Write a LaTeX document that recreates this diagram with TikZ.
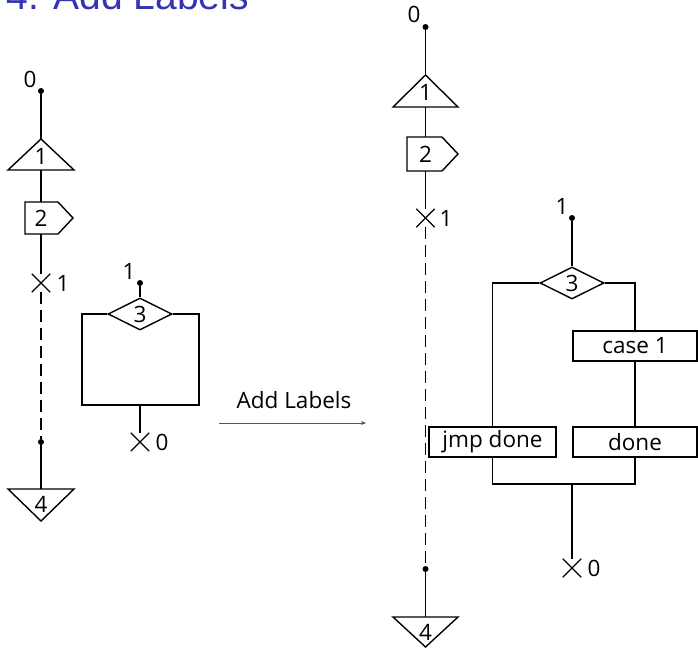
\documentclass[tikz,border=0pt]{standalone}
\usepackage{fontspec}
\setmainfont{Open Sans}
\newfontfamily\titlefont{Liberation Sans}
\usetikzlibrary{shapes.geometric,shapes.misc,arrows.meta}
\definecolor{titleblue}{RGB}{51,51,179}
\definecolor{arrowgray}{RGB}{85,85,85}
\newcommand\lblsize{\fontsize{22.5}{26}\selectfont}
\begin{document}
\begin{tikzpicture}[x=1pt,y=-1pt,line join=miter,
  every node/.style={font=\lblsize, inner sep=0pt},
  conn/.style={line width=1.2pt},
  shp/.style={line width=1.4pt},
  dashline/.style={line width=1.2pt, dash pattern=on 12pt off 6pt},
  dotnode/.style={circle, fill, minimum size=6pt, inner sep=0pt},
  xmark/.style={cross out, draw, line width=1.3pt, minimum size=17pt, inner sep=0pt},
  codebox/.style={rectangle, draw, shp, minimum height=30pt, inner sep=0pt},
  decide/.style={diamond, draw, shp, aspect=2, minimum width=64pt, minimum height=32pt, inner sep=0pt}]
\useasboundingbox (0,0) rectangle (698,648);

% title
\node[anchor=base west, text=titleblue, font=\titlefont\fontsize{39}{40}\selectfont] (title) at (6.5,9.5) {4. Add Labels};

% ---------------- left graph ----------------
\node[dotnode] (Ld0) at (41,91) {};
\node (Ll0) at (30,79) {0};
\coordinate (L1top) at (41,139);
\coordinate (L1bot) at (41,170);
\draw[shp] (L1top) -- (74,170) -- (8,170) -- cycle;
\node (L1) at (41,156) {1};
\coordinate (L2top) at (41,202);
\coordinate (L2bot) at (41,234);
\draw[shp] (25,202) -- (58,202) -- (73,218) -- (58,234) -- (25,234) -- cycle;
\node (L2) at (41,218) {2};
\node[xmark] (Lx1) at (41,283) {};
\node (Ll1) at (63,283) {1};
\node[dotnode] (Ld1) at (41,442) {};
\coordinate (L4top) at (41,489);
\draw[shp] (8,489) -- (74,489) -- (41,521) -- cycle;
\node (L4) at (41,504) {4};
\draw[conn] (Ld0) -- (L1top);
\draw[conn] (L1bot) -- (L2top);
\draw[conn] (L2bot) -- (Lx1);
\draw[dashline] (Lx1) -- (Ld1);
\draw[conn] (Ld1) -- (L4top);

% ---------------- middle graph ----------------
\node[dotnode] (Md) at (140,283) {};
\node (Ml1) at (129,271) {1};
\node[decide] (MD) at (140,314) {3};
\coordinate (Mbl) at (82,405);
\coordinate (Mbr) at (199,405);
\coordinate (Mbot) at (140,405);
\node[xmark] (Mx0) at (140,442) {};
\node (Ml0) at (162,442) {0};
\draw[conn] (Md) -- (MD.north);
\draw[conn] (MD.west) -| (Mbl) -- (Mbr) |- (MD.east);
\draw[conn] (Mbot) -- (Mx0);

% ---------------- transformation arrow ----------------
\coordinate (As) at (219,423);
\coordinate (Ae) at (366,423);
\draw[arrowgray, line width=1pt, -{Stealth[length=5pt,width=4pt]}] (As) -- (Ae);
\node (Alab) at (294,400.5) {Add Labels};

% ---------------- right graph ----------------
\node[dotnode] (Rd0) at (425.5,27) {};
\node (Rl0) at (414,14) {0};
\coordinate (R1top) at (425.5,75);
\coordinate (R1bot) at (425.5,107);
\draw[shp] (R1top) -- (458,107) -- (393,107) -- cycle;
\node (R1) at (425.5,92) {1};
\coordinate (R2top) at (425.5,137);
\coordinate (R2bot) at (425.5,171);
\draw[shp] (407,137) -- (442,137) -- (458,154) -- (442,171) -- (407,171) -- cycle;
\node (R2) at (425.5,154) {2};
\node[xmark] (Rx1) at (425.5,218) {};
\node (Rl1) at (446,218) {1};
\node[dotnode] (Rd1) at (425.5,569) {};
\coordinate (R4top) at (425.5,617);
\draw[shp] (393,617) -- (458,617) -- (425.5,647) -- cycle;
\node (R4) at (425.5,632) {4};
\draw[conn] (Rd0) -- (R1top);
\draw[conn] (R1bot) -- (R2top);
\draw[conn] (R2bot) -- (Rx1);
\draw[dashline] (Rx1) -- (Rd1);
\draw[conn] (Rd1) -- (R4top);

% right inner graph
\node[dotnode] (Sd) at (572,218) {};
\node (Sl1) at (562,206) {1};
\node[decide] (SD) at (572,283) {3};
\node[codebox, minimum width=127pt] (jmp) at (492.5,442) {jmp done};
\node[codebox, minimum width=124pt] (case) at (635,346) {case 1};
\node[codebox, minimum width=124pt] (done) at (635,442) {done};
\coordinate (Sjoin) at (572,484);
\node[xmark] (Sx0) at (572,568) {};
\node (Sl0) at (594,568) {0};
\draw[conn] (Sd) -- (SD.north);
\draw[conn] (SD.west) -| (jmp.north);
\draw[conn] (SD.east) -| (case.north);
\draw[conn] (case) -- (done);
\draw[conn] (jmp.south) |- (Sjoin) -| (done.south);
\draw[conn] (Sjoin) -- (Sx0);
\end{tikzpicture}
\end{document}
